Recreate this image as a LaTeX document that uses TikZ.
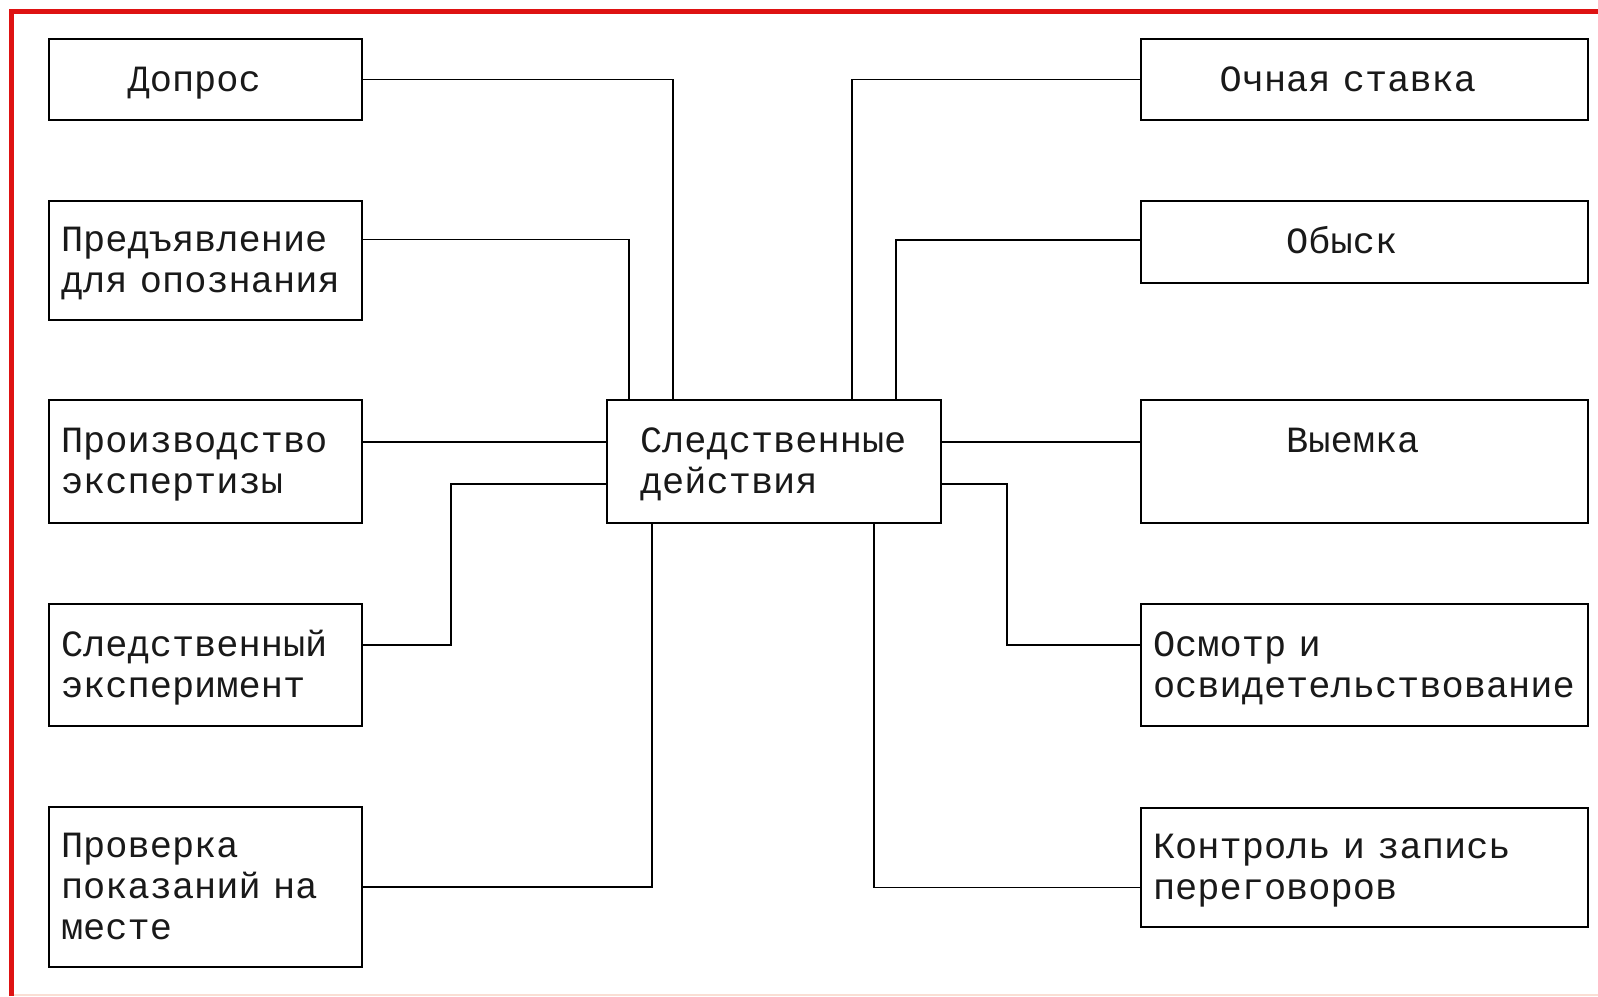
\documentclass[tikz,border=0pt]{standalone}
\usepackage{fontspec}
\setmainfont{Liberation Mono}
\definecolor{frame}{RGB}{222,18,18}
\definecolor{frameshade}{RGB}{250,222,212}
\tikzset{
    box/.style={draw, line width=2.2pt, inner xsep=12pt, inner ysep=0pt, align=left,
        text height=36pt, execute at end node=\strut,
        font=\fontsize{37}{41}\selectfont, text=black!90},
    lbox/.style={box, text width=289pt},
    rbox/.style={box, text width=423pt},
    cbox/.style={box, inner xsep=33pt, text width=268pt},
    link/.style={line width=1.8pt}
}
\begin{document}
\begin{tikzpicture}[x=1pt, y=-1pt]

    \useasboundingbox (0,0) rectangle (1598,996);
    \draw[frameshade, line width=2pt] (11.5,994.5) -- (1598,994.5);
    \draw[frame, line width=4.5pt] (11.5,996) -- (11.5,11.5) -- (1598,11.5);

    \node[cbox, minimum height=123pt] (sled) at (774,461.5) {Следственные\\действия};

    \foreach \nm/\yc/\hgt/\txt in {
        dopros/79.5/81/{\hphantom{000}Допрос},
        predyav/260.5/119/{Предъявление\\для опознания},
        ekspert/461.5/123/{Производство\\экспертизы},
        eksperim/665/122/{Следственный\\эксперимент},
        proverka/887/160/{Проверка\\показаний на\\месте}} {
        \node[lbox, minimum height=\hgt pt] (\nm) at (205.5,\yc) {\txt};
    }

    \foreach \nm/\yc/\hgt/\txt in {
        ochnaya/79.5/81/{\hphantom{000}Очная ставка},
        obysk/242/82/{\hphantom{000000}Обыск},
        vyemka/461.5/123/{\hphantom{000000}Выемка\\\strut},
        osmotr/665/122/{Осмотр и\\освидетельствование},
        kontrol/867.5/119/{Контроль и запись\\переговоров}} {
        \node[rbox, minimum height=\hgt pt] (\nm) at (1364.5,\yc) {\txt};
    }

    \draw[link] (dopros.east) -| ([xshift=-101pt]sled.north);
    \draw[link] ([yshift=21pt]predyav.east) -| ([xshift=-145pt]sled.north);
    \draw[link] ([yshift=19.5pt]ekspert.east) -- ([yshift=19.5pt]sled.west);
    \draw[link] ([yshift=20pt]eksperim.east) -- ++(88,0) |- ([yshift=-22.5pt]sled.west);
    \draw[link] (proverka.east) -| ([xshift=-122pt]sled.south);

    \draw[link] (ochnaya.west) -| ([xshift=78pt]sled.north);
    \draw[link] ([yshift=2pt]obysk.west) -| ([xshift=122pt]sled.north);
    \draw[link] ([yshift=19.5pt]vyemka.west) -- ([yshift=19.5pt]sled.east);
    \draw[link] ([yshift=20pt]osmotr.west) -- ++(-133,0) |- ([yshift=-22.5pt]sled.east);
    \draw[link] ([yshift=-20pt]kontrol.west) -| ([xshift=100pt]sled.south);
\end{tikzpicture}
\end{document}
